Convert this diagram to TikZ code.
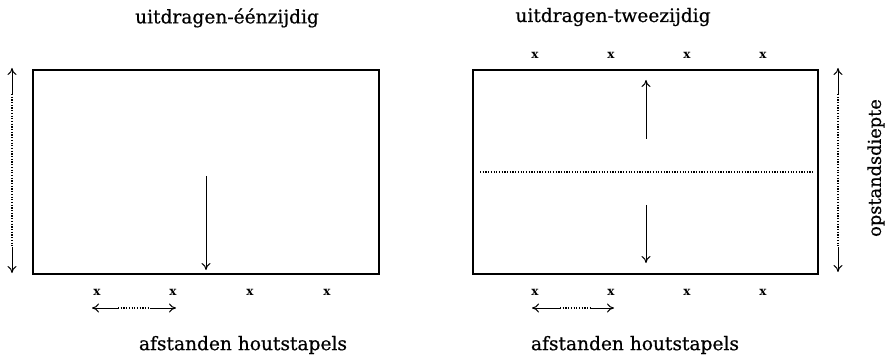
\documentclass[tikz,border=0pt]{standalone}
\usepackage{fontspec}
\setmainfont{DejaVu Serif}
\newfontfamily\lblfont[FakeBold=0.6]{DejaVu Serif}
\usetikzlibrary{arrows.meta}
\begin{document}
\begin{tikzpicture}[x=1pt,y=-1pt,
  box/.style={draw, line width=2.8pt, minimum width=346pt, minimum height=204pt, inner sep=0pt},
  lbl/.style={font=\lblfont\fontsize{18.6}{22}\selectfont, inner sep=0pt},
  xmark/.style={font=\bfseries\fontsize{12}{13}\selectfont, inner sep=0pt},
  arr/.style={line width=1pt, -{To[length=7pt,width=9pt]}},
  dots/.style={line width=1.2pt, dash pattern=on 1.2pt off 1.5pt},
]
\useasboundingbox (0,0) rectangle (894,358);
% ---------- left panel ----------
\node[box] (boxL) at (206,172) {};
\node[lbl] (titleL) at (227,18) {uitdragen-éénzijdig};
\node[lbl] (distL) at (243,345) {afstanden houtstapels};
\coordinate (dLs) at (206,176);
\coordinate (dLe) at (206,270);
\draw[arr] (dLs) -- (dLe);
\coordinate (vL1) at (12,68);
\coordinate (vL1a) at (12,94);
\coordinate (vL2a) at (12,247);
\coordinate (vL2) at (12,273);
\draw[arr] (vL1a) -- (vL1);
\draw[dots] (vL1a) -- (vL2a);
\draw[arr] (vL2a) -- (vL2);
\foreach \i/\x in {1/97,2/173,3/250,4/327}
  \node[xmark] (xLb\i) at (\x,292) {x};
\coordinate (hL1) at (92,308);
\coordinate (hL1a) at (118,308);
\coordinate (hL2a) at (150,308);
\coordinate (hL2) at (176,308);
\draw[arr] (hL1a) -- (hL1);
\draw[dots] (hL1a) -- (hL2a);
\draw[arr] (hL2a) -- (hL2);
% ---------- right panel ----------
\node[box, minimum width=345pt] (boxR) at (645.5,172) {};
\node[lbl] (titleR) at (613,17) {uitdragen-tweezijdig};
\node[lbl] (distR) at (635,345) {afstanden houtstapels};
\node[lbl, font=\lblfont\fontsize{17.8}{21}\selectfont, rotate=90] (depth) at (876,168) {opstandsdiepte};
\foreach \i/\x in {1/535,2/611,3/687,4/763}{
  \node[xmark] (xRt\i) at (\x,55) {x};
  \node[xmark] (xRb\i) at (\x,292) {x};
}
\coordinate (mR1) at (480,172);
\coordinate (mR2) at (813,172);
\draw[dots] (mR1) -- (mR2);
\coordinate (uRs) at (646,139);
\coordinate (uRe) at (646,80);
\draw[arr] (uRs) -- (uRe);
\coordinate (dRs) at (646,205);
\coordinate (dRe) at (646,263);
\draw[arr] (dRs) -- (dRe);
\coordinate (vR1) at (838,68);
\coordinate (vR1a) at (838,94);
\coordinate (vR2a) at (838,247);
\coordinate (vR2) at (838,272);
\draw[arr] (vR1a) -- (vR1);
\draw[dots] (vR1a) -- (vR2a);
\draw[arr] (vR2a) -- (vR2);
\coordinate (hR1) at (532,308);
\coordinate (hR1a) at (560,308);
\coordinate (hR2a) at (590,308);
\coordinate (hR2) at (614,308);
\draw[arr] (hR1a) -- (hR1);
\draw[dots] (hR1a) -- (hR2a);
\draw[arr] (hR2a) -- (hR2);
\end{tikzpicture}
\end{document}
